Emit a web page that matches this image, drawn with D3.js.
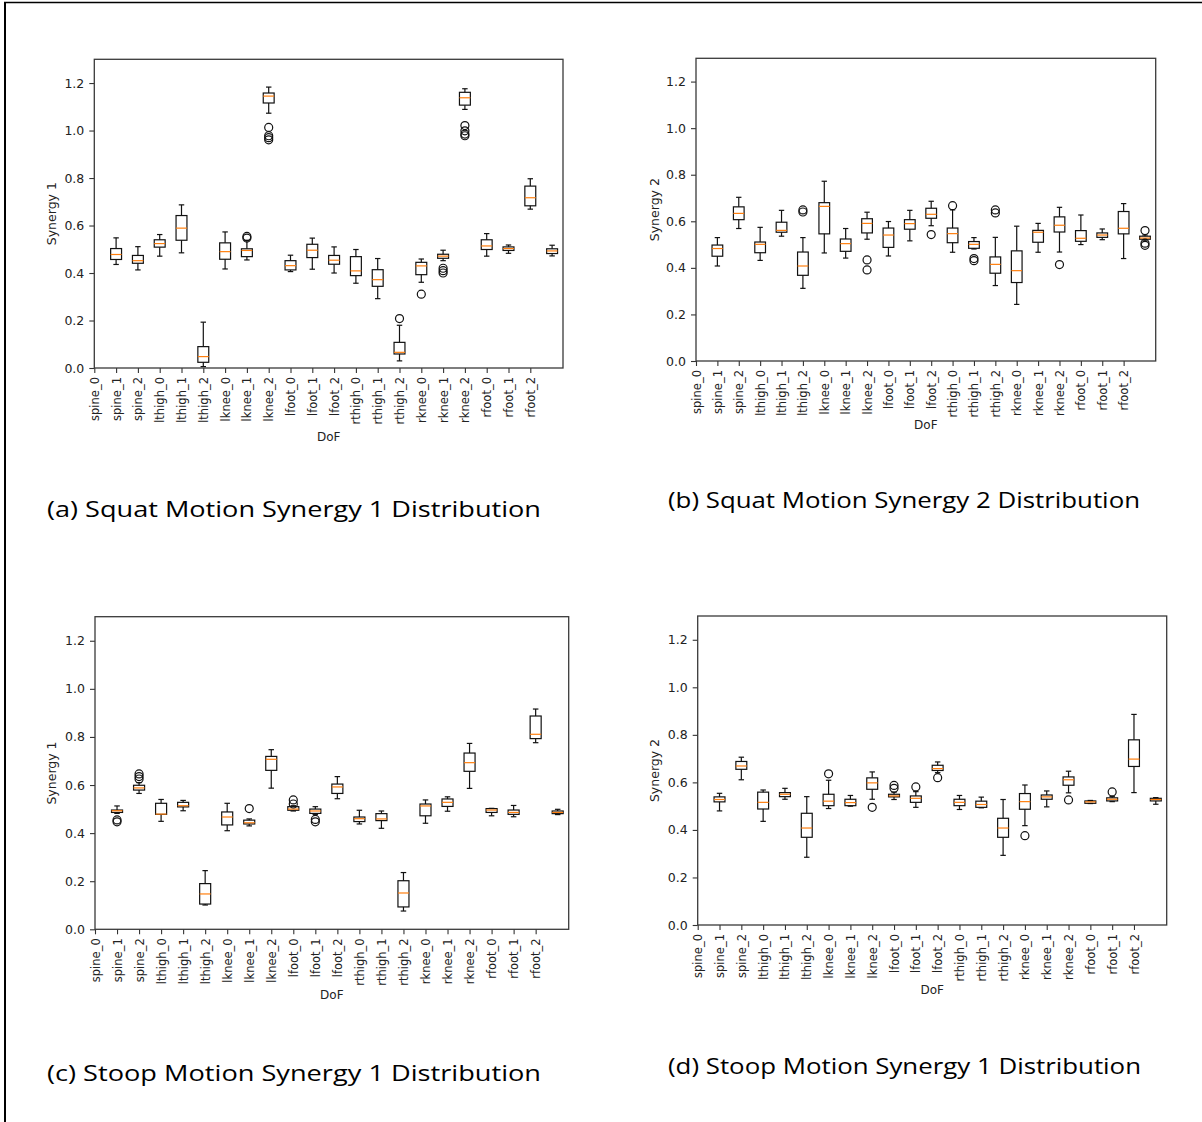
<!DOCTYPE html>
<html><head><meta charset="utf-8">
<script src="https://cdn.jsdelivr.net/npm/d3@7"></script>
<style>body{margin:0;background:#fff} svg{display:block}</style>
</head><body><svg id="fig" width="1202" height="1122"></svg>
<script>
// ---------------- data ----------------
const dofLabels = ["spine_0","spine_1","spine_2","lthigh_0","lthigh_1","lthigh_2","lknee_0","lknee_1","lknee_2",
  "lfoot_0","lfoot_1","lfoot_2","rthigh_0","rthigh_1","rthigh_2","rknee_0","rknee_1","rknee_2","rfoot_0","rfoot_1","rfoot_2"];
const yTicks = [0.0, 0.2, 0.4, 0.6, 0.8, 1.0, 1.2];
// each box (drawn at positions 1..21): [whisker low, Q1, median, Q3, whisker high]
const squatSyn1Boxes = [
  [0.436,0.457,0.478,0.503,0.548],[0.413,0.441,0.452,0.474,0.511],[0.471,0.509,0.524,0.540,0.562],
  [0.485,0.538,0.589,0.642,0.687],[0.006,0.024,0.048,0.090,0.193],[0.417,0.458,0.490,0.527,0.573],
  [0.455,0.469,0.495,0.502,0.537],[1.073,1.116,1.145,1.158,1.183],[0.406,0.413,0.431,0.452,0.475],
  [0.416,0.465,0.496,0.521,0.547],[0.400,0.437,0.454,0.474,0.510],[0.357,0.389,0.409,0.469,0.499],
  [0.292,0.344,0.372,0.414,0.461],[0.030,0.059,0.066,0.108,0.180],[0.361,0.393,0.430,0.445,0.459],
  [0.452,0.462,0.471,0.479,0.496],[1.089,1.107,1.138,1.161,1.176],[0.471,0.499,0.514,0.540,0.566],
  [0.483,0.495,0.503,0.510,0.518],[0.669,0.683,0.717,0.766,0.797],[0.472,0.482,0.493,0.502,0.517]];
const squatSyn1Outliers = [[],[],[],[],[],[],[0.554,0.547],[1.013,0.978,0.970,0.961],[],[],[],[],[],
  [0.208],[0.311],[0.420,0.410,0.400],[1.021,0.999,0.985,0.978],[],[],[],[]];

const squatSyn2Boxes = [
  [0.408,0.450,0.483,0.498,0.530],[0.569,0.607,0.634,0.662,0.703],[0.432,0.465,0.501,0.511,0.574],
  [0.536,0.553,0.561,0.596,0.647],[0.312,0.368,0.408,0.468,0.530],[0.464,0.546,0.664,0.680,0.772],
  [0.442,0.471,0.504,0.524,0.569],[0.523,0.550,0.591,0.611,0.639],[0.451,0.488,0.541,0.571,0.599],
  [0.516,0.566,0.590,0.607,0.647],[0.581,0.613,0.630,0.656,0.686],[0.467,0.508,0.547,0.571,0.649],
  [0.481,0.484,0.501,0.513,0.530],[0.324,0.377,0.415,0.447,0.531],[0.243,0.337,0.388,0.473,0.579],
  [0.467,0.510,0.553,0.561,0.591],[0.468,0.554,0.583,0.619,0.660],[0.500,0.514,0.527,0.560,0.627],
  [0.521,0.531,0.541,0.550,0.567],[0.440,0.546,0.570,0.642,0.676],[0.516,0.523,0.528,0.536,0.541]];
const squatSyn2Outliers = [[],[],[],[],[0.649,0.640],[],[],[0.434,0.391],[],[],[0.543],[0.667],
  [0.440,0.431],[0.649,0.636],[],[],[0.414],[],[],[],[0.560,0.506,0.497]];

const stoopSyn1Boxes = [
  [0.482,0.486,0.493,0.496,0.513],[0.565,0.579,0.588,0.599,0.610],[0.449,0.478,0.479,0.524,0.540],
  [0.493,0.509,0.514,0.528,0.536],[0.101,0.105,0.147,0.190,0.244],[0.410,0.434,0.467,0.488,0.524],
  [0.430,0.438,0.443,0.454,0.459],[0.587,0.661,0.707,0.719,0.747],[0.492,0.495,0.500,0.510,0.514],
  [0.478,0.482,0.492,0.500,0.510],[0.543,0.565,0.592,0.604,0.635],[0.438,0.448,0.460,0.467,0.495],
  [0.420,0.452,0.459,0.481,0.492],[0.076,0.093,0.151,0.202,0.236],[0.441,0.472,0.513,0.521,0.538],
  [0.491,0.511,0.528,0.542,0.551],[0.586,0.657,0.693,0.733,0.773],[0.472,0.486,0.496,0.502,0.503],
  [0.468,0.478,0.486,0.496,0.515],[0.776,0.793,0.811,0.887,0.916],[0.477,0.481,0.486,0.492,0.499]];
const stoopSyn1Outliers = [[0.455,0.447],[0.646,0.635,0.625],[],[],[],[],[0.502],[],[0.538,0.521],
  [0.457,0.447],[],[],[],[],[],[],[],[],[],[],[]];

const stoopSyn2Boxes = [
  [0.480,0.518,0.528,0.539,0.554],[0.611,0.655,0.669,0.688,0.706],[0.436,0.488,0.516,0.559,0.568],
  [0.529,0.540,0.550,0.557,0.575],[0.285,0.369,0.408,0.470,0.540],[0.490,0.502,0.521,0.550,0.609],
  [0.500,0.502,0.515,0.529,0.545],[0.529,0.571,0.598,0.619,0.644],[0.528,0.539,0.543,0.550,0.559],
  [0.495,0.516,0.533,0.543,0.561],[0.641,0.650,0.658,0.672,0.686],[0.486,0.502,0.516,0.529,0.545],
  [0.493,0.495,0.507,0.521,0.538],[0.293,0.369,0.408,0.449,0.528],[0.418,0.487,0.519,0.553,0.589],
  [0.497,0.529,0.539,0.547,0.564],[0.556,0.588,0.611,0.623,0.647],[0.511,0.512,0.518,0.522,0.524],
  [0.519,0.522,0.529,0.535,0.540],[0.557,0.667,0.698,0.779,0.886],[0.508,0.522,0.528,0.533,0.536]];
const stoopSyn2Outliers = [[],[],[],[],[],[0.636],[],[0.495],[0.587,0.575],[0.581],[0.620],[],[],[],
  [0.376],[],[0.526],[],[0.560],[],[]];

const captions = ["(a) Squat Motion Synergy 1 Distribution","(b) Squat Motion Synergy 2 Distribution",
  "(c) Stoop Motion Synergy 1 Distribution","(d) Stoop Motion Synergy 1 Distribution"];
const yLabels = ["Synergy 1","Synergy 2","Synergy 1","Synergy 2"];
const xLabel = "DoF";

// ---------------- layout ----------------
const panels = [
  {boxes: squatSyn1Boxes, outs: squatSyn1Outliers, left:94.3, right:563,   top:59.3, bottom:368,   ylabX:52,  xlabY:437, capX0:47,  capX1:541,  capY:517},
  {boxes: squatSyn2Boxes, outs: squatSyn2Outliers, left:696,  right:1155.7,top:58.3, bottom:361,   ylabX:655, xlabY:425, capX0:668, capX1:1140, capY:508},
  {boxes: stoopSyn1Boxes, outs: stoopSyn1Outliers, left:95,   right:568.7, top:616.7,bottom:929.3, ylabX:52,  xlabY:995, capX0:47,  capX1:541,  capY:1081},
  {boxes: stoopSyn2Boxes, outs: stoopSyn2Outliers, left:697.7,right:1166.7,top:616,  bottom:925,   ylabX:655, xlabY:990, capX0:668, capX1:1141, capY:1074}
];

const svg = d3.select("#fig");
svg.append("rect").attr("width",1202).attr("height",1122).attr("fill","#fff");
// outer frame (top and left edges visible)
svg.append("line").attr("x1",4).attr("x2",1202).attr("y1",2.5).attr("y2",2.5).attr("stroke","#000").attr("stroke-width",1.5);
svg.append("line").attr("x1",5).attr("x2",5).attr("y1",2).attr("y2",1122).attr("stroke","#000").attr("stroke-width",2);

const tickFont = "'DejaVu Sans', sans-serif";
const ink = "#222";

panels.forEach((p, pi) => {
  const x = d3.scaleLinear().domain([0, 21.5]).range([p.left, p.right]);
  const y = d3.scaleLinear().domain([0, 1.3]).range([p.bottom, p.top]);
  const g = svg.append("g");
  const unit = x(1) - x(0);

  // y axis
  const ya = g.append("g").attr("transform", `translate(${p.left},0)`)
    .call(d3.axisLeft(y).tickValues(yTicks).tickFormat(d3.format(".1f")).tickSize(5).tickPadding(5));
  ya.select(".domain").remove();
  ya.selectAll("line").attr("stroke", "#333").attr("stroke-width", 1.1);
  ya.selectAll("text").attr("font-family", tickFont).attr("font-size", 12.5).attr("fill", ink);

  // x axis
  const xa = g.append("g").attr("transform", `translate(0,${p.bottom})`)
    .call(d3.axisBottom(x).tickValues(d3.range(dofLabels.length)).tickFormat(i => dofLabels[i]).tickSize(5));
  xa.select(".domain").remove();
  xa.selectAll("line").attr("stroke", "#333").attr("stroke-width", 1.1);
  xa.selectAll("text")
    .attr("font-family", tickFont).attr("font-size", 11.5).attr("fill", ink)
    .attr("transform", "rotate(-90)").attr("text-anchor", "end")
    .attr("x", -9).attr("y", 0).attr("dy", "0.35em");

  // frame
  g.append("rect").attr("x", p.left).attr("y", p.top).attr("width", p.right - p.left).attr("height", p.bottom - p.top)
    .attr("fill", "none").attr("stroke", "#3a3a3a").attr("stroke-width", 1.3);

  // boxes
  const bw = 0.5 * unit, cw = 0.25 * unit;
  p.boxes.forEach((b, i) => {
    const cx = x(i + 1);
    const [wl, q1, md, q3, wh] = b;
    const bg = g.append("g").attr("stroke", "#111").attr("stroke-width", 1.2).attr("fill", "none");
    bg.append("line").attr("x1", cx).attr("x2", cx).attr("y1", y(q3)).attr("y2", y(wh));
    bg.append("line").attr("x1", cx).attr("x2", cx).attr("y1", y(q1)).attr("y2", y(wl));
    bg.append("line").attr("x1", cx - cw/2).attr("x2", cx + cw/2).attr("y1", y(wh)).attr("y2", y(wh));
    bg.append("line").attr("x1", cx - cw/2).attr("x2", cx + cw/2).attr("y1", y(wl)).attr("y2", y(wl));
    bg.append("rect").attr("x", cx - bw/2).attr("y", y(q3)).attr("width", bw).attr("height", Math.max(0.5, y(q1) - y(q3)));
    g.append("line").attr("x1", cx - bw/2).attr("x2", cx + bw/2).attr("y1", y(md)).attr("y2", y(md))
      .attr("stroke", "#ff7f0e").attr("stroke-width", 1.2);
    p.outs[i].forEach(v => {
      g.append("circle").attr("cx", cx).attr("cy", y(v)).attr("r", 4)
        .attr("fill", "none").attr("stroke", "#111").attr("stroke-width", 1.2);
    });
  });

  // axis labels
  g.append("text").attr("x", (p.left + p.right) / 2).attr("y", p.xlabY).attr("dy", "0.35em")
    .attr("text-anchor", "middle").attr("font-family", tickFont).attr("font-size", 12).attr("fill", ink).text(xLabel);
  g.append("text").attr("transform", `translate(${p.ylabX},${(p.top + p.bottom) / 2}) rotate(-90)`)
    .attr("dy", "0.35em").attr("text-anchor", "middle").attr("font-family", tickFont).attr("font-size", 12.5)
    .attr("fill", ink).text(yLabels[pi]);

  // caption
  svg.append("text").attr("x", p.capX0).attr("y", p.capY)
    .attr("font-family", "'Open Sans', 'Noto Sans', sans-serif").attr("font-size", 21.5).attr("fill", "#000")
    .attr("textLength", p.capX1 - p.capX0).attr("lengthAdjust", "spacingAndGlyphs")
    .text(captions[pi]);
});
</script>
</body></html>
